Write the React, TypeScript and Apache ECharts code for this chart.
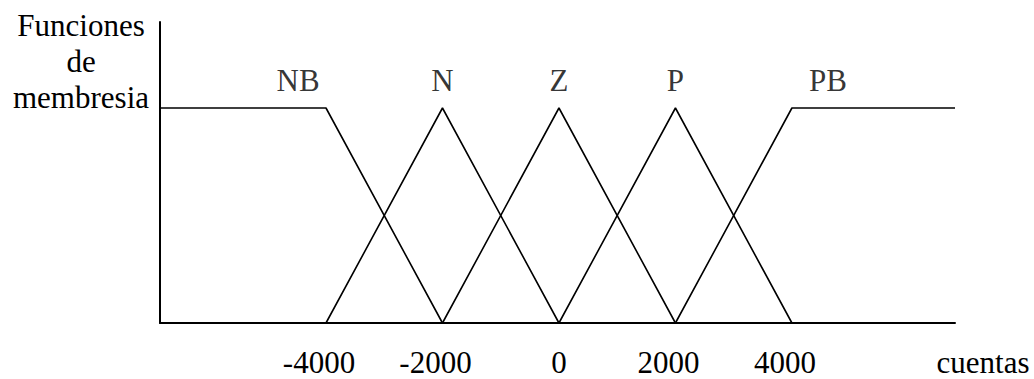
import React, { useEffect, useRef } from "react";
import * as echarts from "echarts";

// Membership function breakpoints (x in "cuentas", y in membership degree)
const nbPoints: number[][] = [[-6850, 1], [-4000, 1], [-2000, 0]];
const nPoints: number[][] = [[-4000, 0], [-2000, 1], [0, 0]];
const zPoints: number[][] = [[-2000, 0], [0, 1], [2000, 0]];
const pPoints: number[][] = [[0, 0], [2000, 1], [4000, 0]];
const pbPoints: number[][] = [[2000, 0], [4000, 1], [6800, 1]];

const setNames = ["NB", "N", "Z", "P", "PB"];
const setLabelX = [-4480, -2000, 0, 2000, 4620];
const setLabelY = 1.13;

const tickValues = [-4000, -2000, 0, 2000, 4000];
const xMin = -6850;
const xMax = 6800;
const yMax = 1.4;

const FONT = '"Liberation Serif", "Times New Roman", serif';
const FS = 31;

export default function App() {
  const ref = useRef<HTMLDivElement>(null);
  useEffect(() => {
    if (!ref.current) return;
    const chart = echarts.init(ref.current, undefined, { renderer: "svg" });
    const lineStyle = { color: "#000", width: 1.6 };
    const mk = (name: string, data: number[][]) => ({
      name,
      type: "line",
      data,
      symbol: "none",
      lineStyle,
      silent: true,
    });
    chart.setOption({
      animation: false,
      backgroundColor: "#fff",
      grid: { left: 160, right: 79, top: 22, bottom: 56 },
      xAxis: {
        type: "value",
        min: xMin,
        max: xMax,
        splitLine: { show: false },
        axisTick: { show: false },
        axisLine: { onZero: false, lineStyle: { color: "#000", width: 2 } },
        axisLabel: {
          customValues: tickValues,
          formatter: (v: number) => (v === 0 ? "{z|0}" : `{s|${v}}`),
          color: "#000",
          fontFamily: FONT,
          fontSize: FS,
          margin: 24,
          rich: {
            z: { color: "#000", fontFamily: FONT, fontSize: FS },
            s: { color: "#000", fontFamily: FONT, fontSize: FS, padding: [0, 14, 0, 0] },
          },
        },
      },
      yAxis: {
        type: "value",
        min: 0,
        max: yMax,
        splitLine: { show: false },
        axisTick: { show: false },
        axisLabel: { show: false },
        axisLine: { show: true, onZero: false, lineStyle: { color: "#000", width: 2 } },
      },
      series: [
        mk("NB", nbPoints),
        mk("N", nPoints),
        mk("Z", zPoints),
        mk("P", pPoints),
        mk("PB", pbPoints),
        {
          type: "scatter",
          symbolSize: 1,
          itemStyle: { color: "rgba(0,0,0,0)" },
          silent: true,
          data: setNames.map((n, i) => ({ name: n, value: [setLabelX[i], setLabelY] })),
          label: {
            show: true,
            position: "inside",
            formatter: (p: any) => p.name,
            color: "#000",
            fontFamily: FONT,
            fontSize: FS,
          },
        },
      ],
      graphic: [
        {
          type: "text",
          x: 81,
          y: 7,
          style: {
            text: "Funciones\nde\nmembresia",
            align: "center",
            verticalAlign: "top",
            fill: "#000",
            fontFamily: FONT,
            fontSize: FS,
            lineHeight: 36,
          },
        },
        {
          type: "text",
          x: 983,
          y: 378,
          style: {
            text: "cuentas",
            align: "center",
            verticalAlign: "bottom",
            fill: "#000",
            fontFamily: FONT,
            fontSize: FS,
          },
        },
      ],
    });
    return () => chart.dispose();
  }, []);
  return (
    <div
      ref={ref}
      style={{ position: "absolute", left: 0, top: 0, width: 1034, height: 379 }}
    />
  );
}
